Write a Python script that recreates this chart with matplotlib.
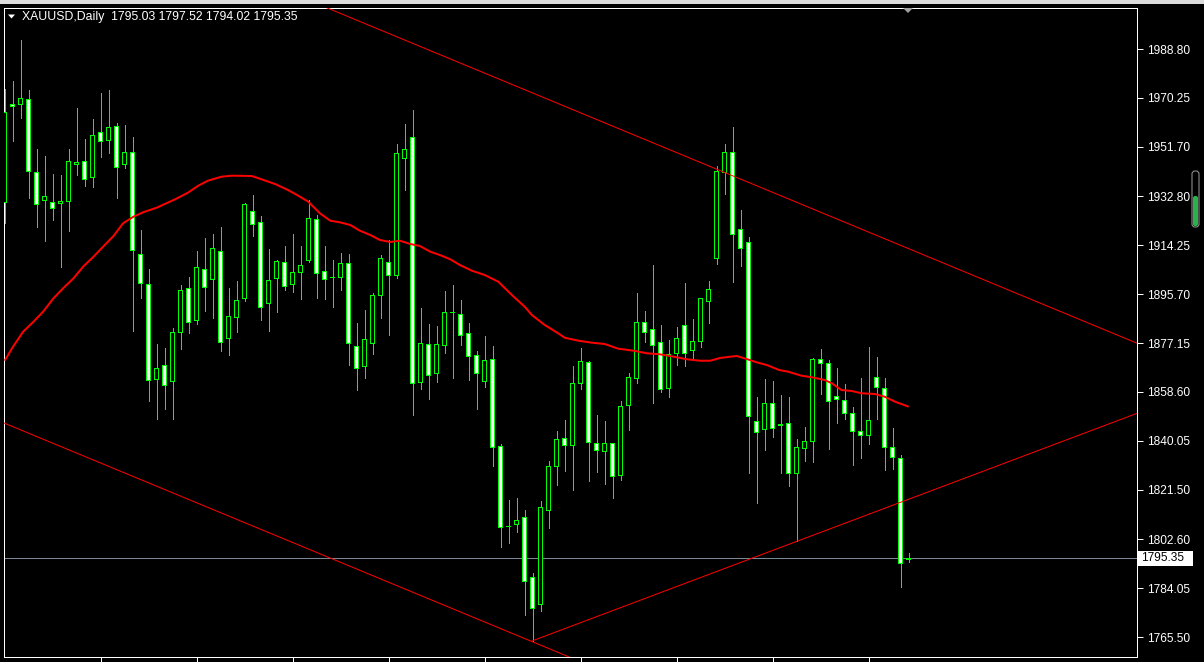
import matplotlib
matplotlib.use("Agg")
import matplotlib.pyplot as plt
from matplotlib.patches import Rectangle, Polygon, FancyBboxPatch

plt.rcParams['font.family'] = ['Liberation Sans', 'DejaVu Sans']

symbol = "XAUUSD"
timeframe = "Daily"

opens = [1930.32, 1967.80, 1967.80, 1969.70, 1941.98, 1931.34, 1930.58, 1930.05, 1930.81, 1945.02,
         1946.15, 1939.93, 1957.17, 1954.13, 1959.29, 1944.86, 1949.42, 1910.84, 1899.44, 1863.37,
         1868.68, 1862.72, 1881.06, 1897.92, 1885.62, 1905.14, 1901.34, 1911.98, 1878.79, 1886.91,
         1893.98, 1927.17, 1922.99, 1892.23, 1901.72, 1907.80, 1899.44, 1904.00, 1908.56, 1924.13,
         1904.38, 1901.84, 1901.95, 1907.42, 1875.90, 1868.15, 1876.89, 1895.11, 1907.80, 1902.71,
         1947.29, 1955.27, 1862.23, 1876.66, 1865.65, 1876.28, 1888.66, 1888.05, 1880.84, 1872.48,
         1862.61, 1870.96, 1837.92, 1807.54, 1808.30, 1810.96, 1788.17, 1777.92, 1813.62, 1830.33,
         1840.96, 1838.30, 1861.85, 1869.82, 1839.06, 1836.02, 1839.06, 1826.91, 1853.49, 1863.75,
         1885.01, 1882.35, 1877.42, 1859.95, 1873.09, 1883.87, 1874.38, 1877.80, 1892.99, 1909.32,
         1941.98, 1949.57, 1920.33, 1915.39, 1847.42, 1844.38, 1854.25, 1846.01, 1846.66, 1827.67,
         1837.16, 1839.82, 1870.96, 1869.44, 1856.91, 1855.39, 1850.46, 1843.62, 1842.10, 1864.13,
         1859.95, 1837.54, 1833.36, 1795.03]

highs = [1973.61, 1976.65, 1992.22, 1973.23, 1950.83, 1948.17, 1941.33, 1940.95, 1950.83, 1966.28,
         1954.62, 1962.22, 1971.98, 1973.23, 1960.59, 1959.83, 1955.27, 1920.07, 1905.26, 1876.77,
         1875.14, 1882.73, 1899.18, 1902.22, 1912.09, 1917.03, 1918.55, 1921.20, 1898.04, 1900.70,
         1930.20, 1933.36, 1925.38, 1912.85, 1908.56, 1913.99, 1918.55, 1913.99, 1931.46, 1925.76,
         1913.99, 1908.67, 1911.22, 1910.95, 1884.75, 1889.68, 1896.25, 1910.57, 1916.27, 1952.72,
         1960.32, 1965.64, 1890.33, 1884.37, 1883.61, 1896.90, 1899.18, 1893.48, 1884.63, 1874.11,
         1879.81, 1876.01, 1838.80, 1817.53, 1818.29, 1813.73, 1789.69, 1817.15, 1832.34, 1843.62,
         1847.91, 1868.42, 1875.14, 1870.43, 1849.70, 1847.53, 1839.30, 1855.13, 1865.65, 1896.03,
         1889.19, 1906.66, 1883.87, 1878.18, 1883.11, 1899.82, 1886.15, 1894.30, 1900.58, 1944.26,
         1952.72, 1959.18, 1927.66, 1917.29, 1856.53, 1863.37, 1862.61, 1857.40, 1856.64, 1840.70,
         1845.14, 1871.34, 1874.87, 1870.70, 1867.66, 1861.58, 1852.85, 1863.86, 1875.63, 1871.84,
         1863.75, 1844.87, 1834.51, 1797.52]

lows = [1922.72, 1953.98, 1962.71, 1932.33, 1921.32, 1916.00, 1923.98, 1906.13, 1919.69, 1940.95,
        1936.89, 1936.51, 1947.90, 1949.31, 1932.33, 1943.72, 1881.82, 1894.35, 1855.24, 1848.40,
        1851.97, 1848.40, 1874.87, 1881.06, 1884.48, 1889.42, 1886.76, 1874.23, 1872.71, 1881.44,
        1893.22, 1917.90, 1886.00, 1881.82, 1889.04, 1897.39, 1896.63, 1893.98, 1908.03, 1894.35,
        1893.86, 1890.94, 1897.28, 1868.80, 1859.42, 1863.97, 1872.97, 1886.76, 1880.19, 1901.95,
        1935.37, 1849.92, 1859.80, 1856.00, 1862.46, 1873.47, 1863.97, 1876.39, 1863.10, 1852.20,
        1860.56, 1830.55, 1799.80, 1801.31, 1805.49, 1773.97, 1764.10, 1775.49, 1807.01, 1823.34,
        1828.66, 1821.44, 1859.80, 1824.86, 1828.28, 1823.72, 1818.40, 1825.24, 1844.23, 1861.85,
        1877.42, 1854.48, 1858.66, 1856.76, 1868.68, 1868.53, 1870.96, 1875.75, 1884.86, 1907.15,
        1933.85, 1900.43, 1906.51, 1827.90, 1816.50, 1836.63, 1841.57, 1827.90, 1822.96, 1801.96,
        1832.45, 1832.07, 1857.90, 1837.01, 1846.88, 1848.18, 1830.94, 1833.59, 1838.91, 1848.40,
        1829.04, 1829.42, 1784.61, 1794.02]

closes = [1964.50, 1967.04, 1970.08, 1942.36, 1929.82, 1932.86, 1928.31, 1930.96, 1946.15, 1945.78,
          1939.32, 1956.03, 1953.75, 1959.07, 1943.88, 1949.57, 1912.36, 1899.82, 1863.10, 1867.54,
          1861.09, 1881.21, 1897.17, 1884.86, 1905.90, 1898.31, 1913.12, 1877.42, 1887.29, 1893.37,
          1929.82, 1922.23, 1890.71, 1900.96, 1908.18, 1898.68, 1904.00, 1906.66, 1924.51, 1903.62,
          1901.34, 1901.90, 1907.42, 1876.89, 1867.54, 1878.56, 1895.27, 1909.32, 1902.71, 1949.19,
          1950.71, 1861.85, 1877.04, 1864.89, 1876.66, 1888.81, 1888.70, 1880.08, 1872.10, 1865.65,
          1870.58, 1837.54, 1807.16, 1807.60, 1809.82, 1786.66, 1776.40, 1814.76, 1830.33, 1840.58,
          1838.30, 1861.85, 1870.20, 1839.44, 1836.40, 1839.06, 1826.53, 1853.11, 1864.13, 1885.01,
          1881.21, 1876.28, 1859.57, 1872.86, 1878.94, 1873.09, 1877.80, 1894.13, 1897.54, 1942.36,
          1949.57, 1918.43, 1913.12, 1849.32, 1843.24, 1854.25, 1844.76, 1846.05, 1827.67, 1837.54,
          1839.82, 1870.96, 1869.44, 1855.01, 1855.77, 1850.46, 1843.62, 1842.10, 1847.80, 1860.33,
          1837.54, 1833.75, 1793.49, 1795.35]

# moving average, sampled along the bar axis
ma_index = [0, 1.04, 2.3, 3.6, 4.8, 6.1, 7.3, 8.6, 9.8, 11.1, 12.3, 13.6, 14.8, 16.1, 17.3, 19,
            21.3, 22.9, 24.2, 25.4, 27.1, 28.4, 30.9, 32.1, 33.8, 35.4, 36.7, 37.95, 39.4, 40.7,
            41.9, 43.2, 44.4, 45.7, 46.9, 48.2, 49.4, 50.7, 51.9, 53.2, 54.4, 55.7, 56.9, 58.4,
            60.0, 61.7, 63.4, 65.0, 65.9, 67.5, 69.2, 70.0, 71.7, 73.4, 75.0, 76.7, 78.6, 80.3,
            81.9, 83.6, 85.3, 86.9, 88.2, 89.4, 90.7, 91.5, 92.75, 94.0, 95.25, 96.8, 97.95, 99.6,
            100.9, 102.5, 103.4, 104.6, 105.9, 107.1, 108.8, 110.0, 111.3, 113]
ma_price = [1870.43, 1875.75, 1881.44, 1885.24, 1889.04, 1894.13, 1897.92, 1901.72, 1906.13, 1909.93,
            1913.72, 1917.79, 1922.61, 1925.12, 1926.79, 1928.53, 1931.72, 1934.23, 1936.89, 1938.79,
            1940.31, 1940.69, 1940.57, 1939.32, 1937.53, 1935.26, 1933.09, 1930.81, 1926.41, 1923.60,
            1922.99, 1921.96, 1919.80, 1918.17, 1916.27, 1915.51, 1916.00, 1914.75, 1913.99, 1911.82,
            1910.57, 1908.94, 1906.77, 1904.61, 1902.98, 1900.43, 1895.38, 1890.94, 1887.79, 1883.99,
            1880.83, 1879.16, 1878.03, 1877.27, 1876.77, 1874.99, 1874.23, 1873.24, 1872.86, 1871.95,
            1870.96, 1870.43, 1870.43, 1871.46, 1871.95, 1872.22, 1871.08, 1869.82, 1868.80, 1866.90,
            1866.25, 1864.73, 1864.13, 1863.10, 1861.85, 1859.30, 1858.92, 1858.05, 1857.78, 1856.76,
            1854.86, 1852.96]

# trend lines: two anchors each as (bar index, price)
upper_channel = [(84.41, 1948.93), (114.41, 1911.20)]
lower_channel = [(-0.09, 1846.77), (68.16, 1760.94)]
support_ray = [(66.0, 1764.10), (114.41, 1819.43)]

price_ticks = [1988.80, 1970.25, 1951.70, 1932.80, 1914.25, 1895.70, 1877.15,
               1858.60, 1840.05, 1821.50, 1802.60, 1784.05, 1765.50]
time_ticks = [12, 24, 36, 48, 60, 72, 84, 96, 108]

# ---------------------------------------------------------------- layout
W, H = 1204, 662
DPI = 100
PX = 72.0 / DPI
GREEN = '#00ff00'
RED = '#ff0000'

fig = plt.figure(figsize=(W / DPI, H / DPI), dpi=DPI, facecolor='black')
left_px, right_px, top_px, bottom_px = 4, 1137, 8, 657
ax = fig.add_axes([left_px / W, 1 - bottom_px / H,
                   (right_px - left_px) / W, (bottom_px - top_px) / H])
ax.set_facecolor('black')
x_lo, x_hi = -0.0875, 141.54
y_lo, y_hi = 1757.91, 2004.37
ax.set_xlim(x_lo, x_hi)
ax.set_ylim(y_lo, y_hi)

# size of one screen pixel in data units
dx = (x_hi - x_lo) / (right_px - left_px)
dy = (y_hi - y_lo) / (bottom_px - top_px)

for s in ax.spines.values():
    s.set_color('white')
    s.set_linewidth(PX)
    s.set_antialiased(False)

ax.yaxis.tick_right()
ax.set_yticks(price_ticks)
ax.set_yticklabels([f"{p:.2f}" for p in price_ticks])
ax.tick_params(axis='y', direction='out', length=4, width=PX, colors='white',
               labelsize=8.6, pad=3)
ax.set_xticks(time_ticks)
ax.set_xticklabels([])
ax.tick_params(axis='x', direction='out', length=4, width=PX, colors='white')

# current price line
last_price = closes[-1]
ax.axhline(last_price, color='#778899', lw=PX, zorder=1, antialiased=False)

# candles: 1 px wick, 5 px body with a 1 px green outline
for i, (o, h, l, c) in enumerate(zip(opens, highs, lows, closes)):
    ax.vlines(i, l, h, color=GREEN, lw=PX, zorder=2, antialiased=False)
    lo, hi = min(o, c), max(o, c)
    ax.add_patch(Rectangle((i - 2.5 * dx, lo - 0.5 * dy), 5 * dx, hi - lo + dy,
                           facecolor=GREEN, edgecolor='none', zorder=3, antialiased=False))
    if hi - lo > dy:
        ax.add_patch(Rectangle((i - 1.5 * dx, lo + 0.5 * dy), 3 * dx, hi - lo - dy,
                               facecolor='white' if c < o else 'black', edgecolor='none',
                               zorder=3.1, antialiased=False))

# moving average
ax.plot(ma_index, ma_price, color=RED, lw=2.0 * PX, zorder=4, antialiased=True,
        solid_capstyle='butt', solid_joinstyle='round')


def extend(anchors, x_from, x_to):
    (x0, y0), (x1, y1) = anchors
    k = (y1 - y0) / (x1 - x0)
    return [x_from, x_to], [y0 + k * (x_from - x0), y0 + k * (x_to - x0)]


for anchors, start in ((upper_channel, -20), (lower_channel, -20), (support_ray, None)):
    xs, ys = extend(anchors, anchors[0][0] if start is None else start, 200)
    ax.plot(xs, ys, color=RED, lw=1.0 * PX, zorder=5, antialiased=True)

# ---------------------------------------------------------------- chrome
over = fig.add_axes([0, 0, 1, 1], zorder=10)
over.set_xlim(0, W)
over.set_ylim(H, 0)
over.axis('off')
over.patch.set_alpha(0)

over.add_patch(Rectangle((0, 0), W, 4, facecolor='#dcdcdc', edgecolor='none'))

# header with the last bar's OHLC
o, h, l, c = opens[-1], highs[-1], lows[-1], closes[-1]
over.add_patch(Polygon([(8, 14.5), (15, 14.5), (11.5, 18.5)], closed=True,
                       facecolor='white', edgecolor='none'))
over.text(22, 17, f"{symbol},{timeframe}  {o:.2f} {h:.2f} {l:.2f} {c:.2f}",
          color='white', fontsize=8.8, ha='left', va='center')

# chart shift marker
over.add_patch(Polygon([(903, 8), (913, 8), (908, 13)], closed=True,
                       facecolor='#a0a0a0', edgecolor='none'))

# volume gauge on the far right
over.add_patch(FancyBboxPatch((1192, 171), 7, 56, boxstyle='round,pad=0,rounding_size=3',
                              facecolor='black', edgecolor='#9a9a9a', lw=PX))
over.add_patch(FancyBboxPatch((1193, 196), 5, 30, boxstyle='round,pad=0,rounding_size=2',
                              facecolor='#27b34a', edgecolor='none'))

# last price tag on the price scale
fig.canvas.draw()
y_disp = ax.transData.transform((0, last_price))[1]
y_tag = H - y_disp
over.add_patch(Rectangle((1138, y_tag - 7.5), 55, 15, facecolor='white', edgecolor='none'))
over.text(1141, y_tag, f"{last_price:.2f}", color='black', fontsize=8.6,
          ha='left', va='center')

fig.savefig('out.png', dpi=DPI, facecolor='black')
